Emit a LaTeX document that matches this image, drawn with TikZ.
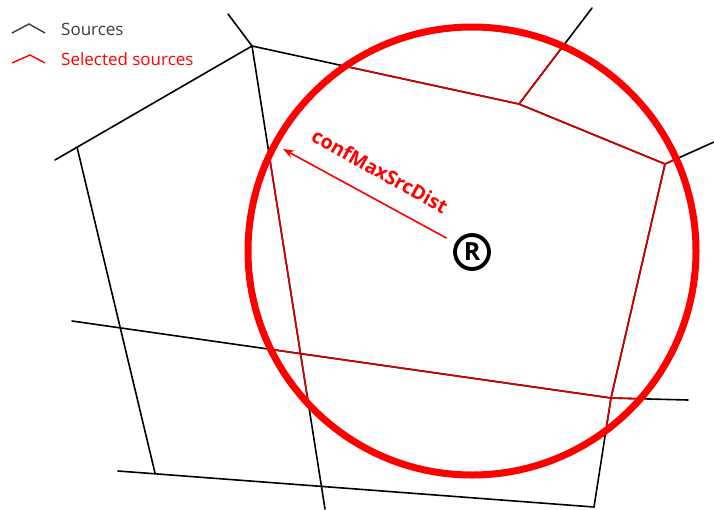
\documentclass[tikz,border=0pt]{standalone}
\usepackage{fontspec}
\setmainfont{Open Sans}
\usetikzlibrary{arrows.meta}
\definecolor{thinred}{RGB}{215,0,0}
\definecolor{circred}{RGB}{255,0,0}
\definecolor{legendgray}{RGB}{60,60,60}
\begin{document}
\begin{tikzpicture}[x=1pt,y=-1pt,
  edge/.style={line width=1.6pt,black,line cap=round},
  redge/.style={line width=1.6pt,thinred,line cap=round},
  legtext/.style={font=\fontsize{17}{20}\selectfont,anchor=base west,inner sep=0pt}]
\useasboundingbox (0,0) rectangle (714,509);
% vertices
\coordinate (T0) at (228,14);
\coordinate (A) at (252,46);
\coordinate (Lsp) at (55,160);
\coordinate (L) at (77,147);
\coordinate (LB) at (155,473);
\coordinate (BL) at (118,471);
\coordinate (BR) at (594,507);
\coordinate (HL) at (72,321);
\coordinate (D) at (611,398);
\coordinate (HR) at (688,400);
\coordinate (MB) at (325,509);
\coordinate (B) at (519,104);
\coordinate (Bt) at (592,8);
\coordinate (C) at (665,164);
\coordinate (Cr) at (714,142);
\coordinate (Ctr) at (472,251);
\def\mynet#1{%
  \draw[#1] (T0) -- (A);
  \draw[#1] (A) -- (Lsp);
  \draw[#1] (L) -- (LB);
  \draw[#1] (BL) -- (BR);
  \draw[#1] (HL) -- (D) -- (HR);
  \draw[#1] (A) -- (MB);
  \draw[#1] (A) -- (B) -- (C) -- (D) -- (BR);
  \draw[#1] (B) -- (Bt);
  \draw[#1] (C) -- (Cr);
}
\mynet{edge}
\begin{scope}
  \clip (Ctr) circle[radius=224];
  \mynet{redge}
\end{scope}
\draw[circred,line width=7pt] (Ctr) circle[radius=224];
% R symbol
\node[circle,draw=black,line width=3.8pt,minimum size=34pt,inner sep=0pt,
  font=\bfseries\fontsize{25}{25}\selectfont] (R) at (472,252) {R};
\coordinate (Tip) at (283,149);
\draw[circred,line width=1.6pt,-{Stealth[length=11pt,width=8pt]},shorten <=10pt] (R) -- (Tip);
\node[text=circred,font=\bfseries\fontsize{19.5}{22}\selectfont,rotate=-29,inner sep=0pt] (lbl) at (380,171) {confMaxSrcDist};
% legend
\coordinate (k1a) at (12,33); \coordinate (k1b) at (29,24); \coordinate (k1c) at (45,33);
\coordinate (k2a) at (12,63); \coordinate (k2b) at (30,55); \coordinate (k2c) at (45,63);
\draw[line width=1.4pt,legendgray] (k1a) -- (k1b) -- (k1c);
\draw[line width=1.4pt,circred] (k2a) -- (k2b) -- (k2c);
\node[legtext,text=legendgray] (s1) at (61,35) {Sources};
\node[legtext,text=circred] (s2) at (61,65) {Selected sources};
\end{tikzpicture}
\end{document}
